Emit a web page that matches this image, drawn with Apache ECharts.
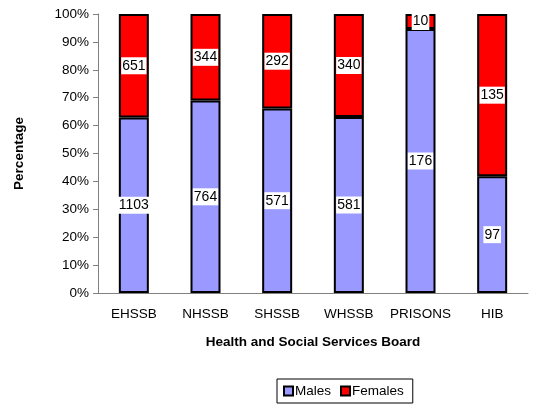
<!DOCTYPE html>
<html>
<head>
<meta charset="utf-8">
<script src="https://cdn.jsdelivr.net/npm/echarts@6/dist/echarts.min.js"></script>
<style>
  html, body { margin: 0; padding: 0; background: #fff; }
  #chart { width: 537px; height: 404px; }
</style>
</head>
<body>
<div id="chart"></div>
<script>
const boards = ['EHSSB', 'NHSSB', 'SHSSB', 'WHSSB', 'PRISONS', 'HIB'];
const males = [1103, 764, 571, 581, 176, 97];
const females = [651, 344, 292, 340, 10, 135];
const yTicks = [0, 10, 20, 30, 40, 50, 60, 70, 80, 90, 100];

// share of each board's total, counts shown as labels
const pct = (arr) => arr.map((v, i) => ({
  value: (v / (males[i] + females[i])) * 100,
  count: v,
}));

const chart = echarts.init(document.getElementById('chart'));

const labelStyle = {
  show: true,
  position: 'inside',
  formatter: (p) => p.data.count,
  color: '#000',
  backgroundColor: '#fff',
  fontFamily: 'Liberation Sans, Arial',
  fontSize: 14,
  padding: [2, 1, 1, 1],
};

chart.setOption({
  animation: false,
  textStyle: { fontFamily: 'Liberation Sans, Arial' },
  grid: { left: 98, right: 9, top: 14, bottom: 111 },
  legend: {
    data: ['Males', 'Females'],
    icon: 'rect',
    left: 277,
    top: 379,
    itemWidth: 9,
    itemHeight: 9,
    itemGap: 9,
    padding: [5, 9, 5, 6],
    borderColor: '#000',
    borderWidth: 1,
    textStyle: { fontSize: 13.5, color: '#000', padding: [0, 0, 0, -3] },
  },
  xAxis: {
    type: 'category',
    data: boards,
    name: 'Health and Social Services Board',
    nameLocation: 'middle',
    nameGap: 42,
    nameTextStyle: { fontWeight: 'bold', fontSize: 13.5, color: '#000' },
    axisLine: { lineStyle: { color: '#808080', width: 1 } },
    axisTick: { length: 5, lineStyle: { color: '#808080' } },
    axisLabel: { color: '#000', fontSize: 13.5, margin: 14, interval: 0 },
  },
  yAxis: {
    type: 'value',
    min: 0,
    max: 100,
    interval: 10,
    name: 'Percentage',
    nameLocation: 'middle',
    nameGap: 72,
    nameTextStyle: { fontWeight: 'bold', fontSize: 13.5, color: '#000' },
    axisLine: { show: true, lineStyle: { color: '#808080', width: 1 } },
    axisTick: { show: true, length: 5, lineStyle: { color: '#808080' } },
    axisLabel: {
      color: '#000',
      fontSize: 13.5,
      margin: 9,
      formatter: (v) => (yTicks.includes(v) ? v + '%' : ''),
    },
    splitLine: { show: false },
  },
  series: [
    {
      name: 'Males',
      type: 'bar',
      stack: 'total',
      barWidth: 30,
      data: pct(males),
      itemStyle: { color: '#9999FF', borderColor: '#000', borderWidth: 2 },
      label: labelStyle,
    },
    {
      name: 'Females',
      type: 'bar',
      stack: 'total',
      barWidth: 30,
      data: pct(females),
      itemStyle: { color: '#FF0000', borderColor: '#000', borderWidth: 2 },
      label: labelStyle,
    },
  ],
});
</script>
</body>
</html>
